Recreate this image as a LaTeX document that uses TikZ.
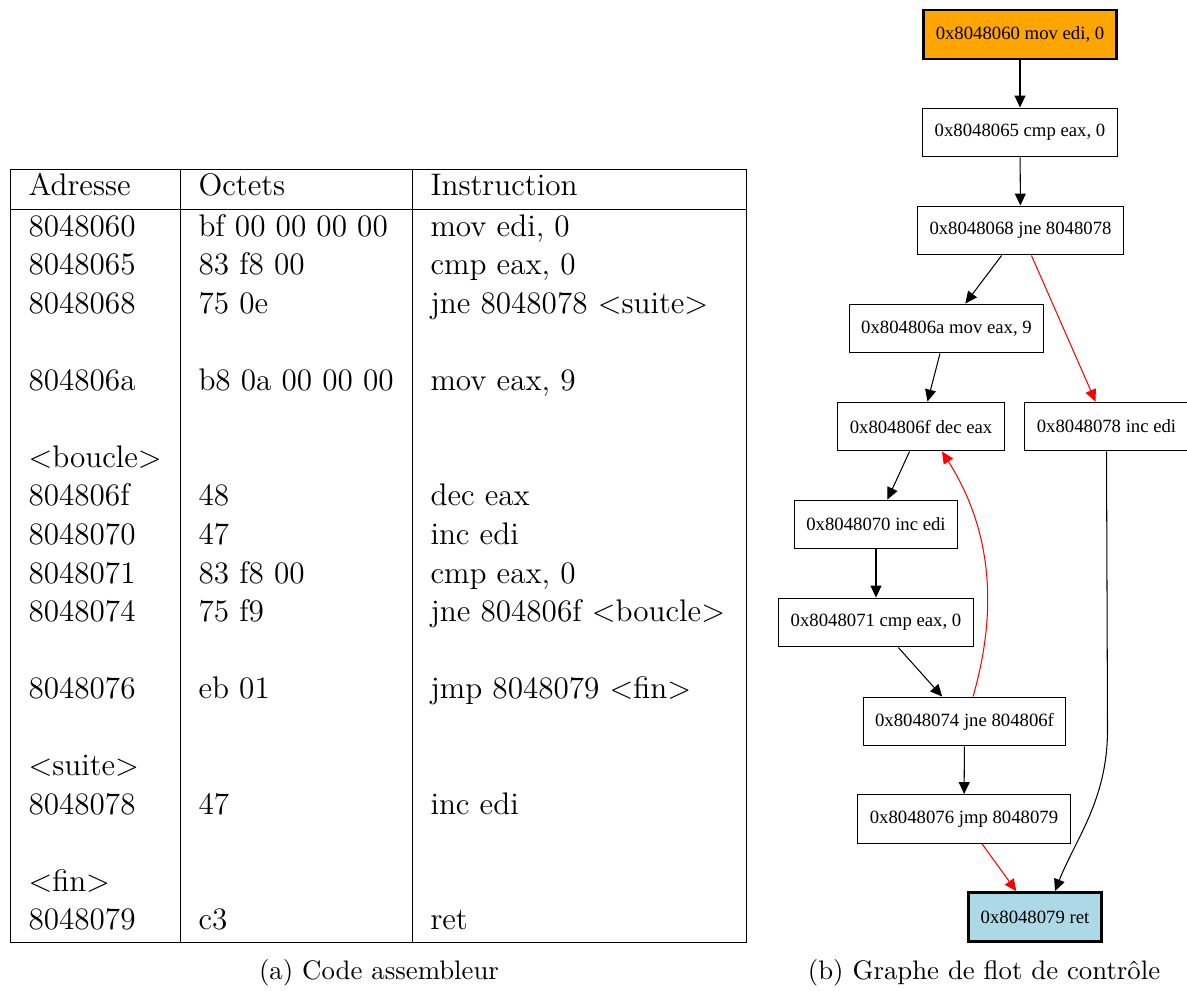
\documentclass[tikz,border=0pt]{standalone}
\usepackage{fontspec}
\usepackage{tikz}
\usetikzlibrary{arrows.meta,calc}

\newfontfamily\graphfont{Liberation Serif}
\definecolor{gvorange}{RGB}{255,165,0}
\definecolor{gvblue}{RGB}{173,216,230}

\tikzset{
  blk/.style={draw, rectangle, font=\graphfont\fontsize{7.2}{8}\selectfont, minimum height=18.8pt, inner xsep=4.6pt, inner ysep=0pt, line width=0.4pt},
  blkentry/.style={blk, fill=gvorange, line width=1.1pt},
  blkexit/.style={blk, fill=gvblue, line width=1.1pt},
  flow/.style={-{Triangle[length=4.6pt,width=4.2pt]}, line width=0.4pt},
  taken/.style={flow, red},
  cell/.style={anchor=base west, inner sep=0pt, font=\fontsize{12}{14}\selectfont},
  capt/.style={anchor=base, inner sep=0pt, font=\fontsize{10.3}{12}\selectfont},
}

\begin{document}
\begin{tikzpicture}[x=0.3846pt,y=0.3846pt,yscale=-1]
\useasboundingbox (0,0) rectangle (1187,990);

%Shape: Table frame
\draw [line width=0.35pt] (10.7,169.5) rectangle (746,942);
\draw [line width=0.35pt] (10.7,209.3) -- (746,209.3);
\draw [line width=0.35pt] (180,169.5) -- (180,942);
\draw [line width=0.35pt] (412,169.5) -- (412,942);

% Text Node: header
\node [cell] (hA) at (28,195.7) {Adresse};
\node [cell] (hB) at (198,195.7) {Octets};
\node [cell] (hC) at (430,195.7) {Instruction};

% Text Node: rows
\node [cell] (a0) at (28,236) {8048060};
\node [cell] (b0) at (198,236) {bf 00 00 00 00};
\node [cell] (c0) at (430,236) {mov edi, 0};
\node [cell] (a1) at (28,274.6) {8048065};
\node [cell] (b1) at (198,274.6) {83 f8 00};
\node [cell] (c1) at (430,274.6) {cmp eax, 0};
\node [cell] (a2) at (28,313.1) {8048068};
\node [cell] (b2) at (198,313.1) {75 0e};
\node [cell] (c2) at (430,313.1) {jne 8048078 $<$suite$>$};
\node [cell] (a4) at (28,390.2) {804806a};
\node [cell] (b4) at (198,390.2) {b8 0a 00 00 00};
\node [cell] (c4) at (430,390.2) {mov eax, 9};
\node [cell] (a6) at (28,467.3) {$<$boucle$>$};
\node [cell] (a7) at (28,505.9) {804806f};
\node [cell] (b7) at (198,505.9) {48};
\node [cell] (c7) at (430,505.9) {dec eax};
\node [cell] (a8) at (28,544.4) {8048070};
\node [cell] (b8) at (198,544.4) {47};
\node [cell] (c8) at (430,544.4) {inc edi};
\node [cell] (a9) at (28,583) {8048071};
\node [cell] (b9) at (198,583) {83 f8 00};
\node [cell] (c9) at (430,583) {cmp eax, 0};
\node [cell] (a10) at (28,621.5) {8048074};
\node [cell] (b10) at (198,621.5) {75 f9};
\node [cell] (c10) at (430,621.5) {jne 804806f $<$boucle$>$};
\node [cell] (a12) at (28,698.6) {8048076};
\node [cell] (b12) at (198,698.6) {eb 01};
\node [cell] (c12) at (430,698.6) {jmp 8048079 $<$fin$>$};
\node [cell] (a14) at (28,775.7) {$<$suite$>$};
\node [cell] (a15) at (28,814.3) {8048078};
\node [cell] (b15) at (198,814.3) {47};
\node [cell] (c15) at (430,814.3) {inc edi};
\node [cell] (a17) at (28,891.4) {$<$fin$>$};
\node [cell] (a18) at (28,929.9) {8048079};
\node [cell] (b18) at (198,929.9) {c3};
\node [cell] (c18) at (430,929.9) {ret};

% Blocks of the graph
\node [blkentry] (n60) at (1020,34.5) {0x8048060 mov edi, 0};
\node [blk] (n65) at (1020,132.5) {0x8048065 cmp eax, 0};
\node [blk] (n68) at (1020.5,230.5) {0x8048068 jne 8048078};
\node [blk] (n6a) at (946.5,328.5) {0x804806a mov eax, 9};
\node [blk] (n6f) at (921,426.5) {0x804806f dec eax};
\node [blk] (n78) at (1106.5,426.5) {0x8048078 inc edi};
\node [blk] (n70) at (876,524.5) {0x8048070 inc edi};
\node [blk] (n71) at (876,622.5) {0x8048071 cmp eax, 0};
\node [blk] (n74) at (964.5,721.5) {0x8048074 jne 804806f};
\node [blk] (n76) at (964,819) {0x8048076 jmp 8048079};
\node [blkexit] (n79) at (1035,917) {0x8048079 ret};

% Edges
\draw [flow] (n60) -- (n65);
\draw [flow] (n65) -- (n68);
\draw [flow] (n68) -- (n6a);
\draw [taken] (n68) -- (n78);
\draw [flow] (n6a) -- (n6f);
\draw [flow] (n6f) -- (n70);
\draw [flow] (n70) -- (n71);
\draw [flow] (n71) -- (n74);
\draw [flow] (n74) -- (n76);
\draw [taken] (n76) -- (n79);
%back edge of the loop
\draw [taken] ($(n74.north)+(8.5,0)$) .. controls (998,610) and (992,530) .. ($(n6f.south)+(21,0)$);
\draw [flow] (n78.south) -- (1107.5,730) .. controls (1107.5,800) and (1075,840) .. ($(n79.north)+(20,0)$);

% Text Node: captions
\node [capt] (capA) at (379,979) {(a) Code assembleur};
\node [capt] (capB) at (984,979) {(b) Graphe de flot de contrôle};
\end{tikzpicture}
\end{document}
